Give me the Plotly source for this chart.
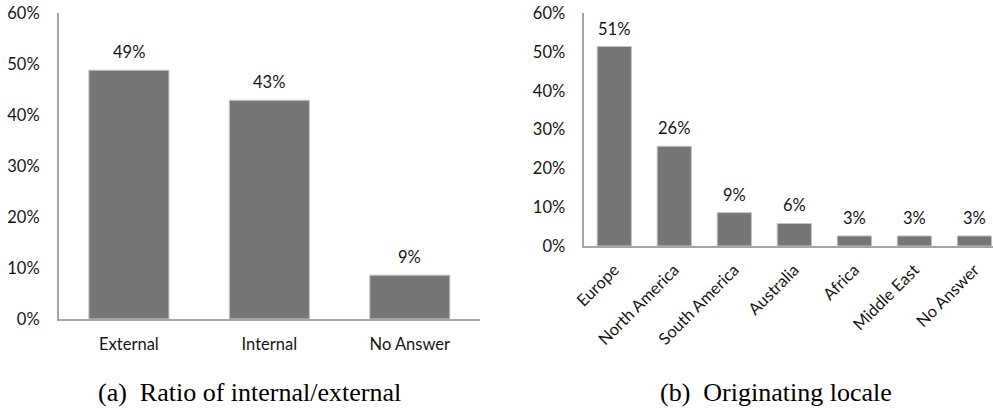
import plotly.graph_objects as go

# ---- data ----
cats_a = ["External", "Internal", "No Answer"]
vals_a = [48.8, 42.9, 8.6]

cats_b = ["Europe", "North America", "South America", "Australia",
          "Africa", "Middle East", "No Answer"]
vals_b = [51.4, 25.7, 8.6, 5.8, 2.6, 2.6, 2.6]

y_ticks = [0, 10, 20, 30, 40, 50, 60]
y_tick_text = ["0%", "10%", "20%", "30%", "40%", "50%", "60%"]

caption_a = "(a)\u00a0\u00a0Ratio of internal/external"
caption_b = "(b)\u00a0\u00a0Originating locale"

# ---- style ----
BAR = "#767676"
EDGE = "#c4c4c4"
AXIS = "#a6a6a6"
TXT = "#151515"
FONT = "Lato"
FS = 16.5

fig = go.Figure()
fig.add_trace(go.Bar(x=cats_a, y=vals_a, xaxis="x", yaxis="y",
                     marker=dict(color=BAR, line=dict(color=EDGE, width=1)),
                     hoverinfo="skip"))
fig.add_trace(go.Bar(x=cats_b, y=vals_b, xaxis="x2", yaxis="y2",
                     marker=dict(color=BAR, line=dict(color=EDGE, width=1)),
                     hoverinfo="skip"))

annotations = []
for c, v in zip(cats_a, vals_a):
    annotations.append(dict(x=c, y=v, xref="x", yref="y", text=f"{round(v)}%",
                            showarrow=False, yshift=18, yanchor="middle",
                            font=dict(family=FONT, size=FS, color=TXT)))
for c, v in zip(cats_b, vals_b):
    annotations.append(dict(x=c, y=v, xref="x2", yref="y2", text=f"{round(v)}%",
                            showarrow=False, yshift=18, yanchor="middle",
                            font=dict(family=FONT, size=FS, color=TXT)))
annotations.append(dict(x=0.2508, y=0.0415, xref="paper", yref="paper", text=caption_a,
                        showarrow=False, xanchor="center", yanchor="middle",
                        font=dict(family="Liberation Serif", size=26, color="#000")))
annotations.append(dict(x=0.7815, y=0.0415, xref="paper", yref="paper", text=caption_b,
                        showarrow=False, xanchor="center", yanchor="middle",
                        font=dict(family="Liberation Serif", size=26, color="#000")))

axis_common = dict(showline=True, linecolor=AXIS, linewidth=1.5, showgrid=False,
                   zeroline=False, ticks="", automargin=False,
                   tickfont=dict(family=FONT, size=FS, color=TXT))

fig.update_layout(
    width=993, height=410,
    margin=dict(l=0, r=0, t=0, b=0, pad=0),
    paper_bgcolor="white", plot_bgcolor="white",
    showlegend=False,
    bargap=0.43,
    xaxis=dict(domain=[0.0591, 0.4834], type="category", range=[-0.5, 2.5],
               ticklabelstandoff=9, anchor="y", **axis_common),
    yaxis=dict(domain=[0.222, 0.968], range=[0, 60], tickvals=y_ticks,
               ticktext=y_tick_text, ticklabelstandoff=14, anchor="x", **axis_common),
    xaxis2=dict(domain=[0.5884, 1.0], type="category", range=[-0.5, 6.31],
                tickangle=-45, ticklabelstandoff=6, anchor="y2", **axis_common),
    yaxis2=dict(domain=[0.4, 0.968], range=[0, 60], tickvals=y_ticks,
                ticktext=y_tick_text, ticklabelstandoff=14, anchor="x2", **axis_common),
    annotations=annotations,
)

fig.write_html("out.html", config={"displayModeBar": False},
               post_script="document.body.style.margin='0';"
                           "document.body.style.overflow='hidden';")
